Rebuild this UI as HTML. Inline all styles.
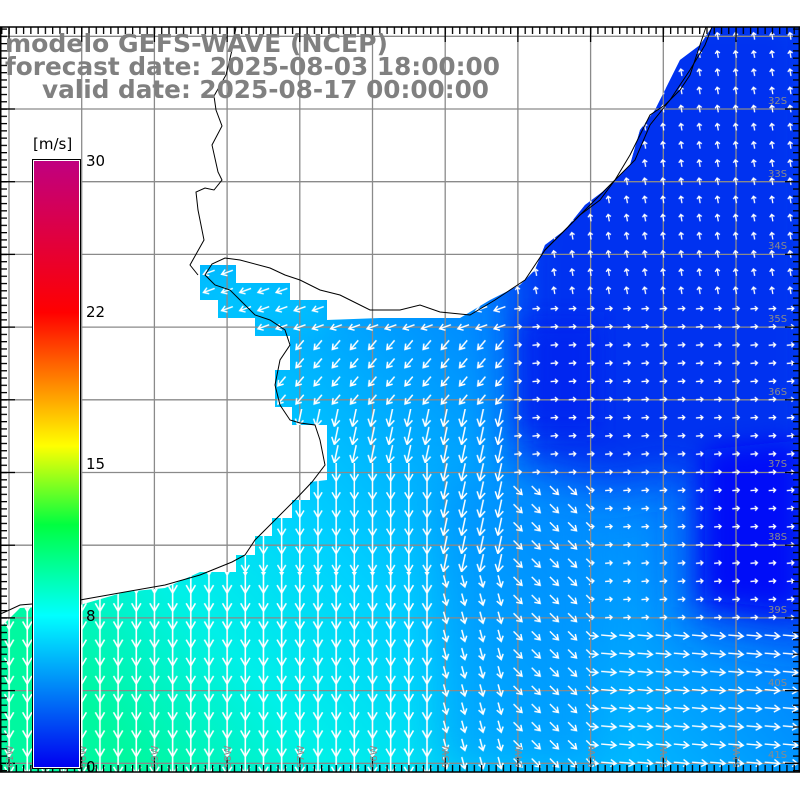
<!DOCTYPE html>
<html><head><meta charset="utf-8"><style>
html,body{margin:0;padding:0;background:#fff;}
svg{display:block;}
</style></head><body>
<svg width="800" height="800" xmlns="http://www.w3.org/2000/svg" xmlns:xlink="http://www.w3.org/1999/xlink">
<defs>
<clipPath id="sea"><polygon points="712,27 700,45 680,60 665,90 655,110 640,130 630,165 605,190 585,205 565,230 545,245 535,270 520,285 490,300 460,318 380,318 327,320 327,300 290,300 290,283 236,283 236,265 200,265 200,300 218,300 218,318 255,318 255,336 290,336 290,370 275,370 275,407 292,407 292,425 327,425 327,480 310,482 310,500 292,500 292,518 272,518 272,536 255,536 255,555 236,555 236,572 200,572 165,588 125,592 80,605 20,608 0,628 0,772 800,772 800,27"/></clipPath>
<filter id="bl" x="-20%" y="-20%" width="140%" height="140%"><feGaussianBlur stdDeviation="22"/></filter>
<filter id="bl2" x="-20%" y="-20%" width="140%" height="140%"><feGaussianBlur stdDeviation="12"/></filter>
<linearGradient id="fld" gradientUnits="userSpaceOnUse" x1="100" y1="720" x2="650" y2="250">
<stop offset="0" stop-color="#00f8a0"/>
<stop offset="0.2" stop-color="#00f0e8"/>
<stop offset="0.4" stop-color="#00d0ff"/>
<stop offset="0.6" stop-color="#00a8ff"/>
<stop offset="0.8" stop-color="#0080ff"/>
<stop offset="1" stop-color="#0060ff"/>
</linearGradient>
<linearGradient id="cb" x1="0" y1="1" x2="0" y2="0">
<stop offset="0" stop-color="#0000f0"/>
<stop offset="0.25" stop-color="#00ffff"/>
<stop offset="0.4" stop-color="#00ff40"/>
<stop offset="0.53" stop-color="#ffff00"/>
<stop offset="0.75" stop-color="#ff0000"/>
<stop offset="1" stop-color="#c00080"/>
</linearGradient>

<g id="aL"><path d="M9.1,-3 L9.1,21 M4.5,13 L9.1,21 L13.7,13"/></g>
<g id="aM"><path d="M9.1,0 L9.1,18 M5,11 L9.1,18 L13.2,11"/></g>
<g id="aS"><path d="M9.1,3 L9.1,15 M5.8,10 L9.1,15 L12.4,10"/></g>
<g id="aR"><path d="M9.1,1.5 L9.1,16.5 M5.6,11 L9.1,16.5 L12.6,11"/></g>
<g id="aT"><path d="M9.1,5.5 L9.1,12.5 M6.7,10 L9.1,12.5 L11.5,10"/></g>

<pattern id="pL" patternUnits="userSpaceOnUse" x="0" y="27" width="18.17" height="18.17">
<g stroke="#fff" stroke-width="1.6" fill="none"><use xlink:href="#aL"/><use xlink:href="#aL" y="-18.17"/><use xlink:href="#aL" y="18.17"/></g></pattern>
<pattern id="pM" patternUnits="userSpaceOnUse" x="0" y="27" width="18.17" height="18.17">
<g stroke="#fff" stroke-width="1.5" fill="none"><use xlink:href="#aM"/></g></pattern>
<pattern id="pDR" patternUnits="userSpaceOnUse" x="0" y="27" width="18.17" height="18.17">
<g stroke="#fff" stroke-width="1.4" fill="none" transform="rotate(-45 9.085 9.085)"><use xlink:href="#aS"/></g></pattern>
<pattern id="pR" patternUnits="userSpaceOnUse" x="0" y="27" width="18.17" height="18.17">
<g stroke="#fff" stroke-width="1.4" fill="none" transform="rotate(-85 9.085 9.085)"><use xlink:href="#aR"/></g></pattern>
<pattern id="pRs" patternUnits="userSpaceOnUse" x="0" y="27" width="18.17" height="18.17">
<g stroke="#fff" stroke-width="1.3" fill="none" transform="rotate(-95 9.085 9.085)"><use xlink:href="#aT"/></g></pattern>
<pattern id="pN" patternUnits="userSpaceOnUse" x="0" y="27" width="18.17" height="18.17">
<g stroke="#fff" stroke-width="1.3" fill="none" transform="rotate(170 9.085 9.085)"><use xlink:href="#aT"/></g></pattern>
<pattern id="pW" patternUnits="userSpaceOnUse" x="0" y="27" width="18.17" height="18.17">
<g stroke="#fff" stroke-width="1.4" fill="none" transform="rotate(70 9.085 9.085)"><use xlink:href="#aS"/></g></pattern>
<pattern id="pSW" patternUnits="userSpaceOnUse" x="0" y="27" width="18.17" height="18.17">
<g stroke="#fff" stroke-width="1.5" fill="none" transform="rotate(40 9.085 9.085)"><use xlink:href="#aS"/></g></pattern>
<pattern id="pSD" patternUnits="userSpaceOnUse" x="0" y="27" width="18.17" height="18.17">
<g stroke="#fff" stroke-width="1.5" fill="none" transform="rotate(12 9.085 9.085)"><use xlink:href="#aM"/></g></pattern>
<pattern id="pDn" patternUnits="userSpaceOnUse" x="0" y="27" width="18.17" height="18.17">
<g stroke="#fff" stroke-width="1.5" fill="none" transform="rotate(-15 9.085 9.085)"><use xlink:href="#aS"/></g></pattern>

<pattern id="tv" patternUnits="userSpaceOnUse" x="8.4" y="0" width="7.27" height="800"><rect x="0" y="0" width="1.3" height="800" fill="#000"/></pattern>
<pattern id="th" patternUnits="userSpaceOnUse" x="0" y="35.7" width="800" height="7.27"><rect x="0" y="0" width="800" height="1.3" fill="#000"/></pattern>
</defs>

<rect width="800" height="800" fill="#fff"/>

<g clip-path="url(#sea)">
<rect x="0" y="27" width="800" height="745" fill="url(#fld)"/>
<polygon points="515,240 515,470 600,490 690,470 690,620 820,640 820,0 560,0" fill="#0030f0" filter="url(#bl)"/>
<polygon points="705,450 705,600 800,610 800,440" fill="#0010f8" filter="url(#bl2)"/>
<polygon points="520,320 520,430 600,430 600,320" fill="#0020f0" filter="url(#bl2)" opacity="0.7"/>
<polygon points="440,480 440,772 600,772 600,480" fill="#0080ff" filter="url(#bl)" opacity="0.5"/>
<polygon points="210,270 330,270 330,330 210,330" fill="#00c8ff" filter="url(#bl2)" opacity="0.6"/>
</g>

<g stroke="#8a8a8a" stroke-width="1.3" fill="none">
<line x1="9" y1="27" x2="9" y2="772"/><line x1="81.7" y1="27" x2="81.7" y2="772"/><line x1="154.4" y1="27" x2="154.4" y2="772"/><line x1="227.1" y1="27" x2="227.1" y2="772"/><line x1="299.8" y1="27" x2="299.8" y2="772"/><line x1="372.5" y1="27" x2="372.5" y2="772"/><line x1="445.2" y1="27" x2="445.2" y2="772"/><line x1="517.9" y1="27" x2="517.9" y2="772"/><line x1="590.6" y1="27" x2="590.6" y2="772"/><line x1="663.3" y1="27" x2="663.3" y2="772"/><line x1="736" y1="27" x2="736" y2="772"/>
<line x1="0" y1="36.3" x2="800" y2="36.3"/><line x1="0" y1="109" x2="800" y2="109"/><line x1="0" y1="181.7" x2="800" y2="181.7"/><line x1="0" y1="254.4" x2="800" y2="254.4"/><line x1="0" y1="327.1" x2="800" y2="327.1"/><line x1="0" y1="399.8" x2="800" y2="399.8"/><line x1="0" y1="472.5" x2="800" y2="472.5"/><line x1="0" y1="545.2" x2="800" y2="545.2"/><line x1="0" y1="617.9" x2="800" y2="617.9"/><line x1="0" y1="690.6" x2="800" y2="690.6"/><line x1="0" y1="763.3" x2="800" y2="763.3"/>
</g>

<g clip-path="url(#sea)">
<rect x="0" y="572" width="436" height="200" fill="url(#pL)"/>
<rect x="236" y="463" width="200" height="109" fill="url(#pM)"/>
<rect x="272" y="409" width="164" height="54" fill="url(#pSD)"/>
<rect x="272" y="336" width="237" height="73" fill="url(#pSW)"/>
<rect x="436" y="409" width="73" height="163" fill="url(#pSD)"/>
<rect x="436" y="572" width="73" height="200" fill="url(#pDn)"/>
<rect x="509" y="481" width="81" height="291" fill="url(#pDR)"/>
<rect x="590" y="626" width="210" height="146" fill="url(#pR)"/>
<rect x="509" y="300" width="291" height="181" fill="url(#pRs)"/>
<rect x="590" y="481" width="210" height="145" fill="url(#pRs)"/>
<rect x="509" y="27" width="291" height="273" fill="url(#pN)"/>
<rect x="190" y="260" width="319" height="76" fill="url(#pW)"/>
</g>

<g stroke="#000" stroke-width="1" fill="none">
<polyline points="712,27 705,45 690,70 670,100 650,125 635,160 605,190 570,225 545,250 525,280 495,300 470,315 440,312 420,305 400,310 370,310 350,300 340,295 320,290 300,280 285,275 270,268 240,260 225,258 212,264 205,275 215,285 230,290 240,300 255,315 270,320 285,330 290,345 280,360 275,385 280,405 290,420 300,423 315,425 320,440 325,465 312,482 295,500 275,520 255,540 245,555 232,562 200,575 165,585 125,592 80,600 20,605 5,612 0,614"/>
<polyline points="236,27 232,50 226,75 214,96 216,110 222,126 212,145 218,172 222,180 214,190 205,188 196,192 198,210 204,240 190,265 198,275"/>
<polyline points="706,27 700,45 695,60 690,75 680,90 665,105 650,115 640,135 630,155 615,180 600,200 580,215 560,235 545,250"/>
</g>

<rect x="0" y="765" width="800" height="7" fill="url(#tv)"/>
<rect x="0" y="27" width="800" height="7" fill="url(#tv)"/>
<rect x="0" y="27" width="7" height="745" fill="url(#th)"/>
<rect x="793" y="27" width="7" height="745" fill="url(#th)"/>
<g stroke="#000" stroke-width="1.3">
<line x1="9" y1="757" x2="9" y2="772"/><line x1="81.7" y1="757" x2="81.7" y2="772"/><line x1="154.4" y1="757" x2="154.4" y2="772"/><line x1="227.1" y1="757" x2="227.1" y2="772"/><line x1="299.8" y1="757" x2="299.8" y2="772"/><line x1="372.5" y1="757" x2="372.5" y2="772"/><line x1="445.2" y1="757" x2="445.2" y2="772"/><line x1="517.9" y1="757" x2="517.9" y2="772"/><line x1="590.6" y1="757" x2="590.6" y2="772"/><line x1="663.3" y1="757" x2="663.3" y2="772"/><line x1="736" y1="757" x2="736" y2="772"/>
<line x1="9" y1="27" x2="9" y2="42"/><line x1="81.7" y1="27" x2="81.7" y2="42"/><line x1="154.4" y1="27" x2="154.4" y2="42"/><line x1="227.1" y1="27" x2="227.1" y2="42"/><line x1="299.8" y1="27" x2="299.8" y2="42"/><line x1="372.5" y1="27" x2="372.5" y2="42"/><line x1="445.2" y1="27" x2="445.2" y2="42"/><line x1="517.9" y1="27" x2="517.9" y2="42"/><line x1="590.6" y1="27" x2="590.6" y2="42"/><line x1="663.3" y1="27" x2="663.3" y2="42"/><line x1="736" y1="27" x2="736" y2="42"/>
<line x1="0" y1="109" x2="15" y2="109"/><line x1="0" y1="181.7" x2="15" y2="181.7"/><line x1="0" y1="254.4" x2="15" y2="254.4"/><line x1="0" y1="327.1" x2="15" y2="327.1"/><line x1="0" y1="399.8" x2="15" y2="399.8"/><line x1="0" y1="472.5" x2="15" y2="472.5"/><line x1="0" y1="545.2" x2="15" y2="545.2"/><line x1="0" y1="617.9" x2="15" y2="617.9"/><line x1="0" y1="690.6" x2="15" y2="690.6"/><line x1="0" y1="763.3" x2="15" y2="763.3"/>
<line x1="785" y1="109" x2="800" y2="109"/><line x1="785" y1="181.7" x2="800" y2="181.7"/><line x1="785" y1="254.4" x2="800" y2="254.4"/><line x1="785" y1="327.1" x2="800" y2="327.1"/><line x1="785" y1="399.8" x2="800" y2="399.8"/><line x1="785" y1="472.5" x2="800" y2="472.5"/><line x1="785" y1="545.2" x2="800" y2="545.2"/><line x1="785" y1="617.9" x2="800" y2="617.9"/><line x1="785" y1="690.6" x2="800" y2="690.6"/><line x1="785" y1="763.3" x2="800" y2="763.3"/>
</g>
<rect x="0.75" y="27" width="798.5" height="745" fill="none" stroke="#000" stroke-width="1.5"/>

<g font-family="DejaVu Sans, Liberation Sans, sans-serif" font-size="10" fill="#8a8a8a">
<text x="768" y="104">32S</text><text x="768" y="177">33S</text><text x="768" y="249">34S</text><text x="768" y="322">35S</text><text x="768" y="395">36S</text><text x="768" y="467">37S</text><text x="768" y="540">38S</text><text x="768" y="613">39S</text><text x="768" y="686">40S</text><text x="768" y="758">41S</text>
<text transform="translate(13,768) rotate(-90)">61W</text>
<text transform="translate(86,768) rotate(-90)">60W</text>
<text transform="translate(158,768) rotate(-90)">59W</text>
<text transform="translate(231,768) rotate(-90)">58W</text>
<text transform="translate(304,768) rotate(-90)">57W</text>
<text transform="translate(377,768) rotate(-90)">56W</text>
<text transform="translate(449,768) rotate(-90)">55W</text>
<text transform="translate(522,768) rotate(-90)">54W</text>
<text transform="translate(595,768) rotate(-90)">53W</text>
<text transform="translate(667,768) rotate(-90)">52W</text>
<text transform="translate(740,768) rotate(-90)">51W</text>
</g>

<g font-family="DejaVu Sans, Liberation Sans, sans-serif" font-weight="bold" font-size="25" fill="#808080">
<text x="5" y="52" textLength="383" lengthAdjust="spacingAndGlyphs">modelo GEFS-WAVE (NCEP)</text>
<text x="5" y="75" textLength="495" lengthAdjust="spacingAndGlyphs">forecast date: 2025-08-03 18:00:00</text>
<text x="42" y="98" textLength="447" lengthAdjust="spacingAndGlyphs">valid date: 2025-08-17 00:00:00</text>
</g>

<rect x="32.5" y="159.5" width="48" height="609" fill="#fff" stroke="#000" stroke-width="1"/>
<rect x="34" y="161" width="45" height="606" fill="url(#cb)"/>
<g font-family="DejaVu Sans, Liberation Sans, sans-serif" font-size="15" fill="#000">
<text x="33" y="149">[m/s]</text>
<text x="86" y="166">30</text>
<text x="86" y="317">22</text>
<text x="86" y="469">15</text>
<text x="86" y="621">8</text>
<text x="86" y="772">0</text>
</g>
</svg>
</body></html>
